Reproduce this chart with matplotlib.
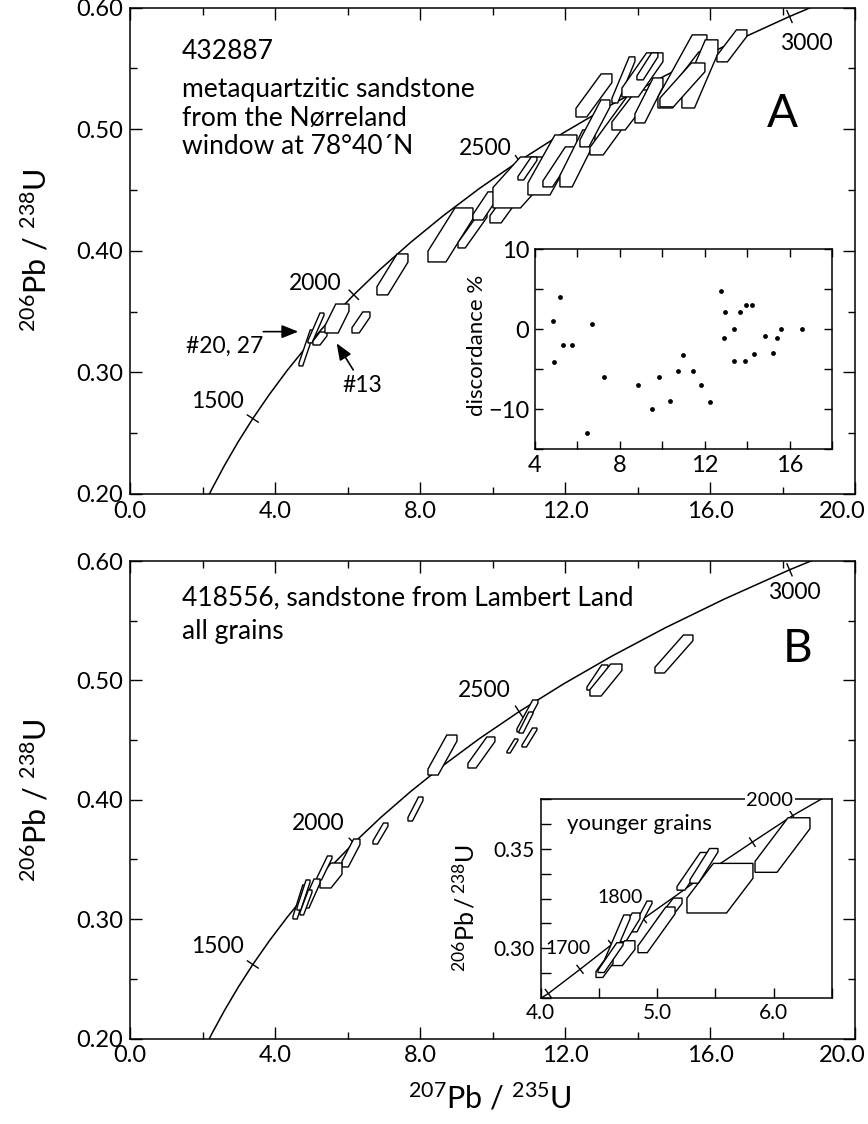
import numpy as np
import matplotlib
matplotlib.use("Agg")
import matplotlib.pyplot as plt
from matplotlib.patches import Polygon
from matplotlib.ticker import MultipleLocator, FuncFormatter

plt.rcParams['font.family'] = ['Lato', 'DejaVu Sans']
plt.rcParams['mathtext.fontset'] = 'custom'
plt.rcParams['mathtext.rm'] = 'Lato'
plt.rcParams['mathtext.it'] = 'Lato:italic'
plt.rcParams['mathtext.bf'] = 'Lato:bold'

# ---------------- data ----------------
# Concordia curve (age in Ma, 207Pb/235U, 206Pb/238U)
conc_age = [1100, 1200, 1300, 1400, 1500, 1600, 1700, 1800, 1900, 2000, 2100,
            2200, 2300, 2400, 2500, 2600, 2700, 2800, 2900, 3000, 3100]
conc_x = [1.9545, 2.2603, 2.5977, 2.9701, 3.3812, 3.8344, 4.3348, 4.8869, 5.4962,
          6.1682, 6.9105, 7.7292, 8.6326, 9.6296, 10.7296, 11.9437, 13.2834,
          14.7617, 16.3929, 18.1925, 20.1795]
conc_y = [0.1861, 0.2046, 0.2234, 0.2426, 0.2620, 0.2817, 0.3018, 0.3221, 0.3428,
          0.3638, 0.3851, 0.4067, 0.4287, 0.4511, 0.4738, 0.4968, 0.5202, 0.5440,
          0.5681, 0.5926, 0.6175]
conc_tick_ages = [1500, 2000, 2500, 3000]

# Panel A error boxes: x-range, y-range, corner fractions
a_x1 = [4.655, 4.903, 5.041, 5.372, 6.118, 6.807, 8.215, 9.043, 9.457, 9.926, 10.008,
        10.698, 10.974, 11.388, 11.857, 12.299, 12.685, 13.292, 13.292, 13.568, 13.982,
        13.927, 14.561, 15.030, 15.223, 14.617, 16.190, 12.409]
a_x2 = [5.069, 5.345, 5.428, 6.035, 6.614, 7.663, 9.457, 9.843, 10.146, 10.809, 11.526,
        11.222, 12.326, 12.271, 12.823, 13.292, 14.147, 14.340, 13.927, 14.700, 14.561,
        14.700, 15.913, 15.913, 16.217, 15.858, 17.017, 13.237]
a_y1 = [0.3053, 0.3242, 0.3225, 0.3324, 0.3324, 0.3637, 0.3908, 0.4023, 0.4253, 0.4229,
        0.4352, 0.4582, 0.4459, 0.4525, 0.4525, 0.5100, 0.4788, 0.4993, 0.5215, 0.5265,
        0.5405, 0.5051, 0.5174, 0.5347, 0.5174, 0.5183, 0.5553, 0.4854]
a_y2 = [0.3349, 0.3488, 0.3332, 0.3562, 0.3497, 0.3974, 0.4352, 0.4319, 0.4484, 0.4525,
        0.4771, 0.4771, 0.4952, 0.4854, 0.4993, 0.5454, 0.5298, 0.5322, 0.5594, 0.5627,
        0.5627, 0.5421, 0.5775, 0.5635, 0.5734, 0.5544, 0.5816, 0.5240]
a_tx = [0.25, 0.25, 0.5, 0.55, 0.4, 0.35, 0.4, 0.25, 0.4, 0.35, 0.5, 0.3, 0.45, 0.3,
        0.35, 0.3, 0.25, 0.35, 0.25, 0.4, 0.3, 0.35, 0.3, 0.25, 0.35, 0.3, 0.35, 0.3]
a_ty = [0.08, 0.08, 0.3, 0.25, 0.25, 0.2, 0.2, 0.15, 0.2, 0.2, 0.4, 0.15, 0.2, 0.15,
        0.2, 0.2, 0.12, 0.2, 0.1, 0.2, 0.15, 0.2, 0.15, 0.12, 0.2, 0.2, 0.2, 0.15]

# Inset A: discordance vs 207Pb/235U
disc_x = [4.83, 4.90, 5.19, 5.31, 5.76, 6.44, 6.70, 7.25, 8.84, 9.50, 9.85, 10.37,
          10.73, 10.98, 11.45, 11.81, 12.25, 12.74, 12.92, 12.96, 13.36, 13.36, 13.67,
          13.89, 13.95, 14.24, 14.31, 14.85, 15.19, 15.40, 15.57, 16.55]
disc_y = [1.0, -4.1, 4.0, -2.0, -2.0, -13.0, 0.7, -6.0, -7.0, -10.0, -6.0, -9.0,
          -5.2, -3.2, -5.2, -7.0, -9.1, 4.8, -1.1, 2.1, 0.0, -4.0, 2.1, -4.0, 3.0,
          3.0, -3.1, -0.9, -3.0, -1.1, 0.0, 0.0]

# Panel B error boxes
b_x1 = [14.479, 12.602, 12.685, 10.671, 10.726, 10.809, 10.394, 9.318, 8.215, 7.663,
        6.697, 5.842, 5.235, 5.152, 4.766, 4.490, 4.600, 4.683]
b_x2 = [15.527, 13.182, 13.568, 11.250, 11.112, 11.222, 10.698, 10.063, 9.015, 8.077,
        7.111, 6.338, 5.842, 5.566, 5.235, 4.876, 4.959, 5.014]
b_y1 = [0.5062, 0.4919, 0.4869, 0.4568, 0.4559, 0.4442, 0.4392, 0.4266, 0.4207, 0.3822,
        0.3629, 0.3437, 0.3261, 0.3328, 0.3093, 0.3001, 0.3076, 0.3035]
b_y2 = [0.5380, 0.5129, 0.5137, 0.4836, 0.4735, 0.4601, 0.4509, 0.4526, 0.4542, 0.4023,
        0.3805, 0.3671, 0.3470, 0.3529, 0.3336, 0.3286, 0.3328, 0.3244]
b_tx = [0.25, 0.3, 0.35, 0.25, 0.3, 0.3, 0.3, 0.3, 0.35, 0.3, 0.3, 0.35, 0.5, 0.3,
        0.35, 0.3, 0.3, 0.3]
b_ty = [0.15, 0.12, 0.2, 0.1, 0.08, 0.1, 0.1, 0.15, 0.15, 0.15, 0.15, 0.2, 0.45, 0.1,
        0.15, 0.08, 0.08, 0.1]

# Inset B (younger grains): concordia as drawn, and error boxes
ib_conc_x = [4.01, 4.067, 4.339, 4.611, 4.882, 5.168, 5.539, 5.817, 6.163, 6.45]
ib_conc_y = [0.2750, 0.2771, 0.2893, 0.3018, 0.3148, 0.3267, 0.3425, 0.3534, 0.3668, 0.3765]
ib_tick_idx = [1, 2, 3, 4, 7, 8]
ib_x1 = [5.840, 5.256, 5.171, 5.282, 4.999, 4.836, 4.785, 4.665, 4.613, 4.553, 4.476, 4.493]
ib_x2 = [6.311, 5.822, 5.437, 5.522, 5.214, 5.154, 4.956, 4.853, 4.810, 4.768, 4.622, 4.708]
ib_y1 = [0.3382, 0.3177, 0.3292, 0.3327, 0.3117, 0.2977, 0.3082, 0.3032, 0.2912, 0.2927,
         0.2852, 0.2877]
ib_y2 = [0.3657, 0.3427, 0.3482, 0.3502, 0.3252, 0.3207, 0.3237, 0.3177, 0.3037, 0.3167,
         0.2952, 0.3027]
ib_tx = [0.4, 0.6, 0.25, 0.3, 0.35, 0.25, 0.25, 0.35, 0.45, 0.25, 0.4, 0.25]
ib_ty = [0.2, 0.3, 0.1, 0.1, 0.2, 0.15, 0.08, 0.2, 0.35, 0.08, 0.3, 0.08]

# ---------------- figure ----------------
W, H = 868, 1124
fig = plt.figure(figsize=(W / 100, H / 100), dpi=100)


def rect(l, r, t, b):
    return [l / W, 1 - b / H, (r - l) / W, (b - t) / H]


def hexagon(x1, x2, y1, y2, tx, ty):
    w = x2 - x1
    h = y2 - y1
    return [(x2 - tx * w, y2), (x2, y2), (x2, y2 - ty * h),
            (x1 + tx * w, y1), (x1, y1), (x1, y1 + ty * h)]


def draw_boxes(ax, x1, x2, y1, y2, tx, ty, lw=1.0):
    for i in range(len(x1)):
        ax.add_patch(Polygon(hexagon(x1[i], x2[i], y1[i], y2[i], tx[i], ty[i]),
                             closed=True, facecolor='white', edgecolor='black',
                             lw=lw, zorder=3))


def curve_ticks(ax, xs, ys, idxs, half=6.5):
    for i in idxs:
        p = ax.transData.transform((xs[i], ys[i]))
        a = ax.transData.transform((xs[i - 1], ys[i - 1]))
        b = ax.transData.transform((xs[i + 1], ys[i + 1]))
        d = b - a
        d = d / np.hypot(d[0], d[1])
        n = np.array([-d[1], d[0]])
        pts = ax.transData.inverted().transform(np.array([p - n * half, p + n * half]))
        ax.plot(pts[:, 0], pts[:, 1], color='black', lw=1.0, zorder=2)


def setup_main(ax):
    ax.set_xlim(0, 20)
    ax.set_ylim(0.2, 0.6)
    ax.xaxis.set_major_locator(MultipleLocator(4))
    ax.xaxis.set_minor_locator(MultipleLocator(2))
    ax.yaxis.set_major_locator(MultipleLocator(0.1))
    ax.yaxis.set_minor_locator(MultipleLocator(0.05))
    ax.xaxis.set_major_formatter(FuncFormatter(lambda v, p: f'{v:.1f}' if v < 19 else ''))
    ax.yaxis.set_major_formatter(FuncFormatter(lambda v, p: f'{v:.2f}'))
    ax.tick_params(which='both', direction='in', top=True, right=True,
                   labelsize=17, width=1.0, color='black')
    ax.tick_params(which='major', length=8.5, pad=5)
    ax.tick_params(which='minor', length=5)
    for s in ax.spines.values():
        s.set_linewidth(1.1)
    # last x tick label kept inside the picture
    ax.annotate('20.0', xy=(1, 0), xycoords='axes fraction', xytext=(8, -5),
                textcoords='offset points', ha='right', va='top', fontsize=17)


tick_idx = [conc_age.index(a) for a in conc_tick_ages]

# ----- Panel A -----
axA = fig.add_axes(rect(130.3, 855, 7.5, 494))
setup_main(axA)
axA.plot(conc_x, conc_y, color='black', lw=1.1, zorder=2)
curve_ticks(axA, conc_x, conc_y, tick_idx)
draw_boxes(axA, a_x1, a_x2, a_y1, a_y2, a_tx, a_ty)

fs_txt = 19
axA.text(1.427, 0.5637, '432887', fontsize=fs_txt, ha='left', va='center')
axA.text(1.427, 0.5322, 'metaquartzitic sandstone', fontsize=fs_txt, ha='left', va='center')
axA.text(1.427, 0.5089, 'from the Nørreland', fontsize=fs_txt, ha='left', va='center')
axA.text(1.427, 0.4855, 'window at 78°40´N', fontsize=fs_txt, ha='left', va='center')
axA.text(17.998, 0.5125, 'A', fontsize=33, ha='center', va='center')
axA.text(9.788, 0.4843, '2500', fontsize=16.5, ha='center', va='center')
axA.text(5.096, 0.3733, '2000', fontsize=16.5, ha='center', va='center')
axA.text(18.645, 0.5706, '3000', fontsize=16.5, ha='center', va='center')
axA.text(2.406, 0.2757, '1500', fontsize=16.5, ha='center', va='center')
axA.text(2.612, 0.3211, '#20, 27', fontsize=16.5, ha='center', va='center')
axA.text(6.394, 0.2896, '#13', fontsize=16.5, ha='center', va='center')
arrow_kw = dict(arrowstyle='-|>,head_length=0.5,head_width=0.2', color='black',
                lw=1.2, shrinkA=0, shrinkB=0, mutation_scale=20)
axA.annotate('', xy=(4.636, 0.3335), xytext=(3.67, 0.3335), arrowprops=arrow_kw)
axA.annotate('', xy=(5.695, 0.3239), xytext=(6.153, 0.302), arrowprops=arrow_kw)

# Inset A
axIA = fig.add_axes(rect(535, 832.3, 249, 449.3))
axIA.set_xlim(4, 18)
axIA.set_ylim(-15, 10)
axIA.xaxis.set_major_locator(MultipleLocator(2))
axIA.yaxis.set_major_locator(MultipleLocator(5))
axIA.xaxis.set_major_formatter(FuncFormatter(
    lambda v, p: f'{v:.0f}' if abs(v % 4) < 1e-6 and v < 17 else ''))
axIA.yaxis.set_major_formatter(FuncFormatter(
    lambda v, p: (f'{v:.0f}'.replace('-', '\u2212')) if abs(v % 10) < 1e-6 else ''))
axIA.tick_params(which='both', direction='in', top=True, right=True, length=6,
                 width=1.0, labelsize=17, pad=4)
for s in axIA.spines.values():
    s.set_linewidth(1.1)
axIA.scatter(disc_x, disc_y, s=12, color='black', zorder=3, linewidths=0)
fig.text(477 / W, 1 - 345 / H, 'discordance %', rotation=90, fontsize=16,
         ha='center', va='center')

# ----- Panel B -----
axB = fig.add_axes(rect(130.3, 855, 561, 1038.5))
setup_main(axB)
axB.plot(conc_x, conc_y, color='black', lw=1.1, zorder=2)
curve_ticks(axB, conc_x, conc_y, tick_idx)
draw_boxes(axB, b_x1, b_x2, b_y1, b_y2, b_tx, b_ty)
axB.text(1.418, 0.5688, '418556, sandstone from Lambert Land', fontsize=fs_txt,
         ha='left', va='center')
axB.text(1.418, 0.5408, 'all grains', fontsize=fs_txt, ha='left', va='center')
axB.text(18.424, 0.5263, 'B', fontsize=33, ha='center', va='center')
axB.text(9.76, 0.4919, '2500', fontsize=16.5, ha='center', va='center')
axB.text(5.18, 0.3805, '2000', fontsize=16.5, ha='center', va='center')
axB.text(2.406, 0.2769, '1500', fontsize=16.5, ha='center', va='center')
axB.text(18.315, 0.5732, '3000', fontsize=16.5, ha='center', va='center')

# Inset B
axIB = fig.add_axes(rect(540.5, 832, 799.3, 997.7))
axIB.set_xlim(4.0, 6.5)
axIB.set_ylim(0.275, 0.375)
axIB.xaxis.set_major_locator(MultipleLocator(0.5))
axIB.yaxis.set_major_locator(MultipleLocator(0.0125))
axIB.xaxis.set_major_formatter(FuncFormatter(
    lambda v, p: f'{v:.1f}' if abs(v - round(v)) < 1e-6 else ''))
axIB.yaxis.set_major_formatter(FuncFormatter(
    lambda v, p: f'{v:.2f}' if min(abs(v - 0.30), abs(v - 0.35)) < 1e-6 else ''))
axIB.tick_params(which='both', direction='in', length=7, width=1.0, labelsize=15, pad=4)
for s in axIB.spines.values():
    s.set_linewidth(1.1)
axIB.plot(ib_conc_x, ib_conc_y, color='black', lw=1.0, zorder=2)
curve_ticks(axIB, ib_conc_x, ib_conc_y, ib_tick_idx, half=5)
draw_boxes(axIB, ib_x1, ib_x2, ib_y1, ib_y2, ib_tx, ib_ty)
axIB.text(4.227, 0.3627, 'younger grains', fontsize=16, ha='left', va='center')
axIB.text(4.682, 0.3257, '1800', fontsize=14, ha='center', va='center')
axIB.text(4.04, 0.2997, '1700', fontsize=14, ha='left', va='center')
axIB.text(5.968, 0.3742, '2000', fontsize=14.5, ha='center', va='center', zorder=6,
          bbox=dict(facecolor='white', edgecolor='none', pad=1.0))
fig.text(465 / W, 1 - 908 / H, r'$^{206}\mathrm{Pb}\,/\,^{238}\mathrm{U}$', rotation=90,
         fontsize=18, ha='center', va='center')

# Axis titles
ylab = r'$^{206}\mathrm{Pb}\ /\ ^{238}\mathrm{U}$'
fig.text(36 / W, 1 - 250 / H, ylab, rotation=90, fontsize=22, ha='center', va='center')
fig.text(36 / W, 1 - 800 / H, ylab, rotation=90, fontsize=22, ha='center', va='center')
fig.text(490 / W, 1 - 1098 / H, r'$^{207}\mathrm{Pb}\ /\ ^{235}\mathrm{U}$', fontsize=22,
         ha='center', va='center')

fig.savefig('out.png', dpi=100, facecolor='white')
